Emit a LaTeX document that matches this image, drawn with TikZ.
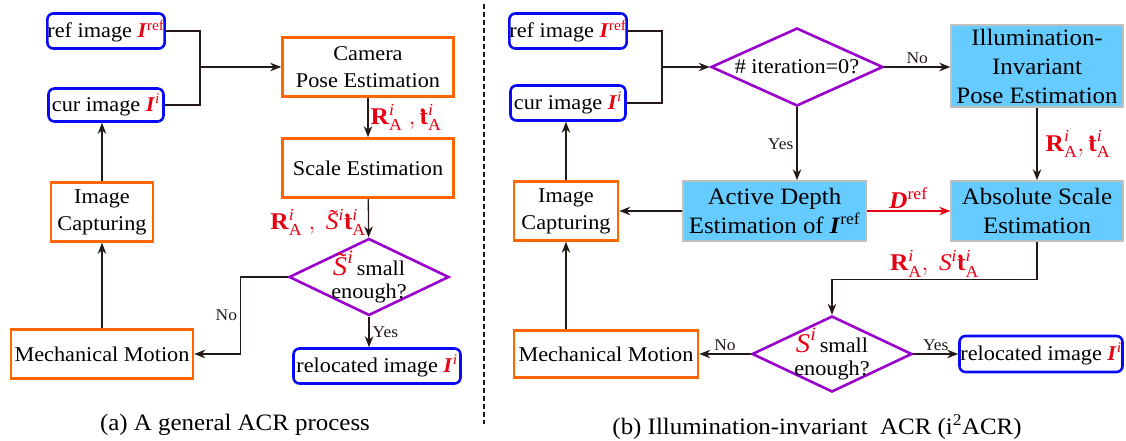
\documentclass[tikz,border=0pt]{standalone}
\usepackage{amsmath}
\usepackage{fontspec}
\setmainfont{Liberation Serif}[FakeStretch=1.06]
\usetikzlibrary{shapes.geometric, arrows.meta, positioning, calc}
\definecolor{acrred}{RGB}{230,0,18}
\definecolor{acrorange}{RGB}{255,102,0}
\definecolor{acrblue}{RGB}{10,10,245}
\definecolor{acrpurple}{RGB}{153,0,204}
\definecolor{acrcyan}{RGB}{102,204,255}
\definecolor{acrgray}{RGB}{192,192,192}
\definecolor{acrblack}{RGB}{35,25,22}

\newcommand{\bI}{\textbf{\textit{I}}}
\newcommand{\Iref}{\textcolor{acrred}{\bI\textsuperscript{ref}}}
\newcommand{\Ii}{\textcolor{acrred}{\bI\textsuperscript{\textit{i}}}}
\newcommand{\dott}{\rlap{\raisebox{0.5em}{\textbf{.}}}\textbf{t}}
\newcommand{\tS}{\rlap{\raisebox{0.15em}{\hspace{0.15em}\char"02DC}}\textit{S}}
\newcommand{\RA}{\textbf{R}^{\textit{i}}_{\textrm{A}}}
\newcommand{\tA}{\text{\dott}^{\textit{i}}_{\textrm{A}}}

\begin{document}
\begin{tikzpicture}[x=1pt, y=-1pt,
    font=\fontsize{21}{27}\selectfont,
    imgbox/.style={rectangle, rounded corners=6pt, draw=acrblue, line width=2.6pt, inner sep=0pt},
    procbox/.style={rectangle, draw=acrorange, line width=2.6pt, inner sep=0pt, align=center},
    estbox/.style={rectangle, draw=acrgray, fill=acrcyan, line width=1.5pt, inner sep=0pt, align=center,
                   font=\fontsize{23.5}{29}\selectfont},
    decision/.style={diamond, aspect=2, draw=acrpurple, line width=2.6pt, inner xsep=-14pt,
                     inner ysep=-12pt, align=center, font=\fontsize{21}{23}\selectfont},
    flow/.style={draw=acrblack, line width=1.3pt, -{Stealth[length=11pt, width=8.5pt]}},
    link/.style={draw=acrblack, line width=1.3pt},
    vec/.style={text=acrred, font=\fontsize{24}{26}\selectfont, inner sep=2pt},
    lbl/.style={font=\fontsize{16.5}{18}\selectfont, text=acrblack, inner sep=3pt},
    caption/.style={font=\fontsize{23.5}{26}\selectfont}
]
\useasboundingbox (0,0) rectangle (1126,441);

% (a) general ACR process
\node[imgbox, minimum width=115, minimum height=35] (refA) at (106,31) {ref image \Iref};
\node[imgbox, minimum width=115, minimum height=33] (curA) at (106,105) {cur image \Ii};
\node[procbox, minimum width=171, minimum height=59] (camA) at (368,67) {Camera\\Pose Estimation};
\node[procbox, minimum width=171, minimum height=59] (scaleA) at (368,168) {Scale Estimation};
\node[procbox, minimum width=102, minimum height=59] (capA) at (102,212) {Image\\Capturing};
\node[decision, minimum width=160, minimum height=77] (decA) at (369,277)
    {{\color{acrred}\fontsize{27}{27}\selectfont$\tS^{\textit{i}}$}\,small\\enough?};
\node[procbox, minimum width=182, minimum height=49] (mechA) at (102,354) {Mechanical Motion};
\node[imgbox, minimum width=167, minimum height=35] (relA) at (377,366) {relocated image \Ii};
\node[caption] (capnA) at (235,425) {(a) A general ACR process};

\coordinate (jA) at (200,67);
\draw[link] (refA.east) -| (jA);
\draw[link] (curA.east) -| (jA);
\draw[flow] (jA) -- (camA.west);
\draw[flow] (camA) -- node[vec, right]{$\RA\ ,\tA$} (scaleA);
\draw[flow] (scaleA) -- node[vec, left, pos=0.62]{$\RA\ ,\ \tS^{\textit{i}}\tA$} (decA);
\draw[flow] (decA.west) -- ++(-47,0) |- node[lbl, pos=0.25, left]{No} (mechA.east);
\draw[flow] (decA.south) -- node[lbl, right]{Yes} (decA.south |- relA.north);
\draw[flow] (mechA) -- (capA);
\draw[flow] (capA.north) -- (capA.north |- curA.south);

% divider
\draw[acrblack, line width=2.5pt, dash pattern=on 5pt off 3pt] (484,4) -- (484,424);

% (b) illumination-invariant ACR
\node[imgbox, minimum width=115, minimum height=35] (refB) at (568,31) {ref image \Iref};
\node[imgbox, minimum width=115, minimum height=35] (curB) at (568,103) {cur image \Ii};
\node[decision, minimum width=172, minimum height=78] (iterB) at (797,67) {\# iteration=0?};
\node[estbox, minimum width=172, minimum height=82] (illumB) at (1037,66)
    {Illumination-\\Invariant\\Pose Estimation};
\node[estbox, minimum width=183, minimum height=60] (depthB) at (774.5,211)
    {Active Depth\\Estimation of \bI\textsuperscript{ref}};
\node[estbox, minimum width=172, minimum height=60] (absB) at (1037,211) {Absolute Scale\\Estimation};
\node[procbox, minimum width=104, minimum height=59] (capB) at (566,211) {Image\\Capturing};
\node[decision, minimum width=160, minimum height=76] (decB) at (832,354)
    {{\color{acrred}\fontsize{27}{27}\selectfont$\textit{S}^{\textit{i}}$}\,small\\enough?};
\node[procbox, minimum width=184, minimum height=47] (mechB) at (606,354) {Mechanical Motion};
\node[imgbox, minimum width=163, minimum height=36] (relB) at (1041,354) {relocated image \Ii};
\node[caption] (capnB) at (817,427) {(b) Illumination-invariant\ \ ACR (i\textsuperscript{2}ACR)};

\coordinate (jB) at (662,67);
\draw[link] (refB.east) -| (jB);
\draw[link] (curB.east) -| (jB);
\draw[flow] (jB) -- (iterB.west);
\draw[flow] (iterB.east) -- node[lbl, above]{No} (illumB.west |- iterB.east);
\draw[flow] (iterB.south) -- node[lbl, left]{Yes} (iterB.south |- depthB.north);
\draw[flow] (depthB.west) -- (capB.east);
\draw[flow, draw=acrred] (depthB.east) -- node[vec, above]{\textbf{\textit{D}}\textsuperscript{ref}} (absB.west);
\draw[flow] (illumB) -- node[vec, right, xshift=6pt]{$\RA,\tA$} (absB);
\draw[flow] (absB.south) -- ++(0,38) -| node[vec, pos=0.25, above]{$\RA,\ \textit{S}^{\textit{i}}\tA$} (decB.north);
\draw[flow] (decB.west) -- node[lbl, above]{No} (mechB.east);
\draw[flow] (decB.east) -- node[lbl, above]{Yes} (relB.west);
\draw[flow] (capB.south |- mechB.north) -- (capB.south);
\draw[flow] (capB.north) -- (capB.north |- curB.south);
\end{tikzpicture}
\end{document}
